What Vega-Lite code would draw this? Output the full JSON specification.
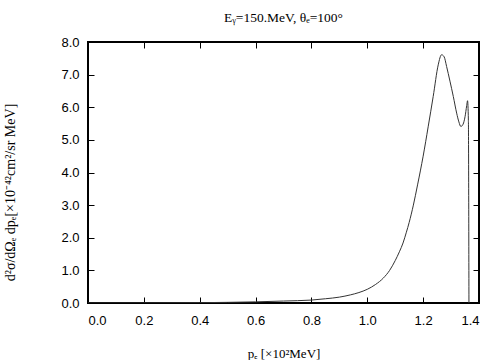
{
  "$schema": "https://vega.github.io/schema/vega-lite/v6.json",
  "width": 391,
  "height": 261,
  "autosize": {"type": "none"},
  "padding": {"left": 88, "top": 42, "right": 25, "bottom": 57},
  "background": "white",
  "config": {
    "view": {"stroke": "black", "strokeWidth": 2},
    "axis": {"grid": false, "domain": false, "ticks": true,
      "labelFont": "Liberation Sans", "labelFontSize": 13, "labelColor": "black",
      "titleFont": "Liberation Serif", "titleFontSize": 13, "titleFontWeight": "normal", "titleColor": "black"}
  },
  "title": {"text": "Eᵧ=150.MeV,  θₑ=100°", "font": "Liberation Serif", "fontSize": 13.5, "fontWeight": "normal", "color": "black", "offset": 12, "anchor": "middle"},
  "data": {"values": [
    {"p": 0.0, "v": 0.0},
    {"p": 0.2, "v": 0.002},
    {"p": 0.4, "v": 0.01},
    {"p": 0.5, "v": 0.02},
    {"p": 0.6, "v": 0.035},
    {"p": 0.7, "v": 0.06},
    {"p": 0.8, "v": 0.09},
    {"p": 0.85, "v": 0.13},
    {"p": 0.9, "v": 0.18},
    {"p": 0.94, "v": 0.25},
    {"p": 0.97, "v": 0.32},
    {"p": 1.0, "v": 0.42},
    {"p": 1.03, "v": 0.57},
    {"p": 1.057, "v": 0.76},
    {"p": 1.08, "v": 1.0},
    {"p": 1.1, "v": 1.3},
    {"p": 1.115, "v": 1.57},
    {"p": 1.128, "v": 1.84},
    {"p": 1.14, "v": 2.17},
    {"p": 1.15, "v": 2.47},
    {"p": 1.165, "v": 3.0},
    {"p": 1.18, "v": 3.62},
    {"p": 1.2, "v": 4.5},
    {"p": 1.218, "v": 5.4},
    {"p": 1.236, "v": 6.33},
    {"p": 1.254, "v": 7.3},
    {"p": 1.266, "v": 7.61},
    {"p": 1.275, "v": 7.55},
    {"p": 1.284, "v": 7.25},
    {"p": 1.296, "v": 6.8},
    {"p": 1.308, "v": 6.33},
    {"p": 1.32, "v": 5.82},
    {"p": 1.328, "v": 5.55},
    {"p": 1.335, "v": 5.41},
    {"p": 1.343, "v": 5.48},
    {"p": 1.35, "v": 5.71},
    {"p": 1.356, "v": 6.05},
    {"p": 1.359, "v": 6.2},
    {"p": 1.362, "v": 5.6},
    {"p": 1.364, "v": 0.0}
  ]},
  "layer": [
    {
      "mark": {"type": "line", "color": "#333333", "strokeWidth": 1, "interpolate": "monotone", "clip": true},
      "encoding": {
        "x": {"field": "p", "type": "quantitative", "scale": {"domain": [0, 1.4], "nice": false, "zero": false},
          "axis": {"orient": "bottom", "values": [0, 0.2, 0.4, 0.6, 0.8, 1.0, 1.2, 1.4], "format": ".1f", "tickSize": -6, "tickColor": "black", "tickWidth": 1, "labelPadding": 17, "labelDx": 2,
            "title": "pₑ [×10²MeV]", "titlePadding": 20}},
        "y": {"field": "v", "type": "quantitative", "scale": {"domain": [0, 8], "nice": false},
          "axis": {"orient": "left", "values": [0, 1, 2, 3, 4, 5, 6, 7, 8], "format": ".1f", "tickSize": -6, "tickColor": "black", "tickWidth": 1, "labelPadding": 15,
            "title": "d²σ/dΩₑ dpₑ[×10⁻⁴²cm²/sr MeV]", "titleFontSize": 14, "titleX": -71, "titleY": 150, "titleAngle": -90, "titleAnchor": "middle"}}
      }
    },
    {
      "mark": {"type": "line", "strokeOpacity": 0},
      "encoding": {
        "x": {"field": "p", "type": "quantitative", "axis": {"orient": "top", "values": [0, 0.2, 0.4, 0.6, 0.8, 1.0, 1.2, 1.4], "tickSize": -6, "tickColor": "black", "tickWidth": 1, "labels": false, "title": null}},
        "y": {"field": "v", "type": "quantitative", "axis": {"orient": "right", "values": [0, 1, 2, 3, 4, 5, 6, 7, 8], "tickSize": -6, "tickColor": "black", "tickWidth": 1, "labels": false, "title": null}}
      }
    }
  ],
  "resolve": {"axis": {"x": "independent", "y": "independent"}}
}
